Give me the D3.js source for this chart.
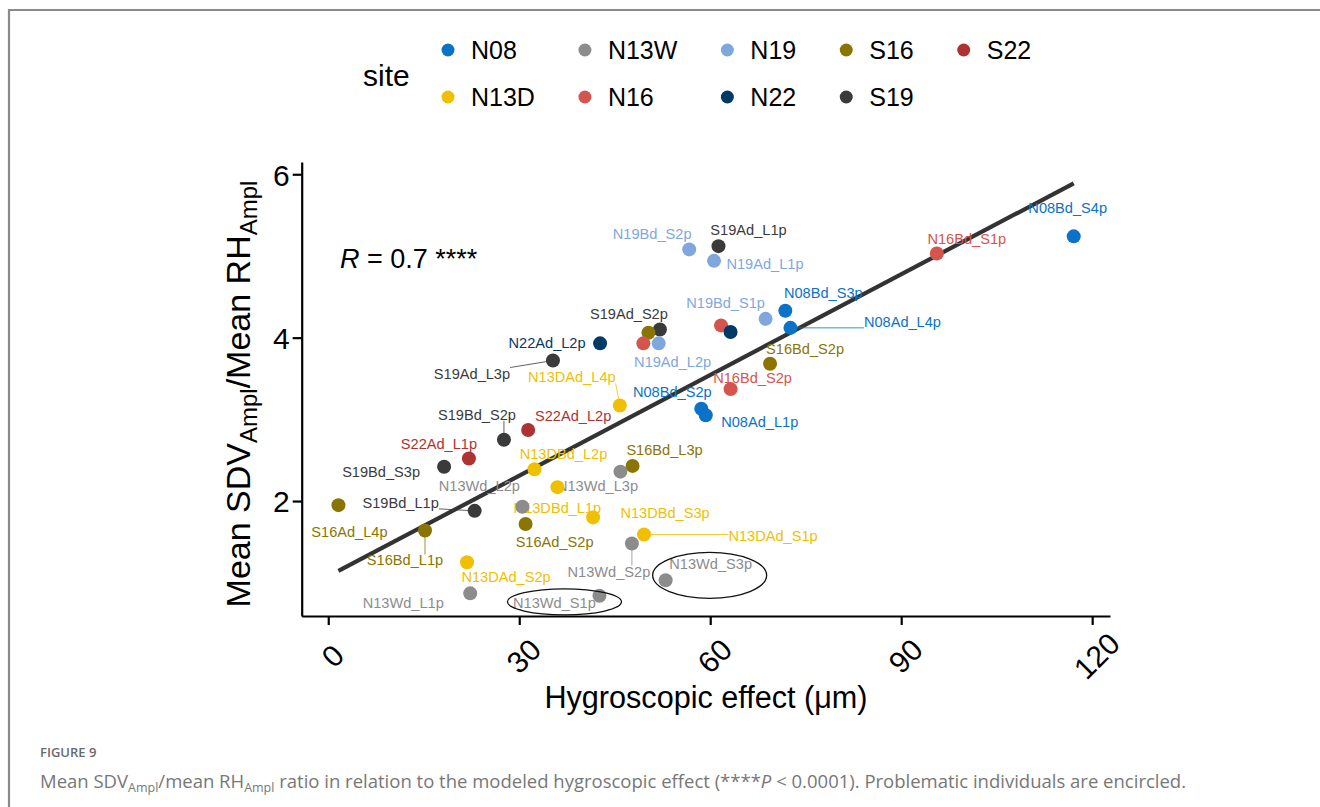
<!DOCTYPE html>
<html>
<head>
<meta charset="utf-8">
<script src="https://cdn.jsdelivr.net/npm/d3@7"></script>
<style>
  html, body { margin: 0; padding: 0; background: #ffffff; }
  svg { display: block; }
</style>
</head>
<body>
<svg id="fig" width="1320" height="807"></svg>
<script>
// ---- data: one entry per tree (sample id, site, hygroscopic effect in µm, SDV/RH amplitude ratio)
const sampleIds = [
  "N08Bd_S4p", "N16Bd_S1p", "S19Ad_L1p", "N19Bd_S2p", "N19Ad_L1p",
  "N08Bd_S3p", "N19Bd_S1p", "N08Ad_L4p", "", "",
  "S19Ad_S2p", "", "", "N22Ad_L2p", "N19Ad_L2p",
  "S19Ad_L3p", "S16Bd_S2p", "N16Bd_S2p", "N13DAd_L4p", "N08Bd_S2p",
  "N08Ad_L1p", "S22Ad_L2p", "S19Bd_S2p", "S22Ad_L1p", "S19Bd_S3p",
  "N13DBd_L2p", "S16Bd_L3p", "N13Wd_L3p", "N13DBd_L1p", "N13Wd_L2p",
  "S16Ad_L4p", "S19Bd_L1p", "N13DBd_S3p", "S16Ad_S2p", "S16Bd_L1p",
  "N13DAd_S1p", "N13Wd_S2p", "N13DAd_S2p", "N13Wd_S3p", "N13Wd_L1p",
  "N13Wd_S1p"
];
const sites = [
  "N08", "N16", "S19", "N19", "N19",
  "N08", "N19", "N08", "N16", "N22",
  "S19", "S16", "N16", "N22", "N19",
  "S19", "S16", "N16", "N13D", "N08",
  "N08", "S22", "S19", "S22", "S19",
  "N13D", "S16", "N13W", "N13D", "N13W",
  "S16", "S19", "N13D", "S16", "S16",
  "N13D", "N13W", "N13D", "N13W", "N13W",
  "N13W"
];
const hygroEffect = [
  117.1, 95.6, 61.3, 56.7, 60.6,
  71.8, 68.7, 72.6, 61.7, 63.2,
  52.1, 50.3, 49.5, 42.7, 51.9,
  35.3, 69.4, 63.2, 45.8, 58.6,
  59.3, 31.4, 27.6, 22.1, 18.2,
  32.4, 47.8, 45.9, 36.0, 30.5,
  1.6, 23.0, 41.6, 31.0, 15.2,
  49.6, 47.7, 21.8, 53.0, 22.3,
  42.6
];
const ampRatio = [
  5.24, 5.03, 5.12, 5.08, 4.94,
  4.33, 4.23, 4.12, 4.15, 4.07,
  4.10, 4.06, 3.93, 3.93, 3.93,
  3.72, 3.68, 3.37, 3.17, 3.13,
  3.05, 2.87, 2.75, 2.52, 2.42,
  2.39, 2.43, 2.36, 2.17, 1.93,
  1.95, 1.88, 1.80, 1.72, 1.64,
  1.59, 1.48, 1.25, 1.03, 0.87,
  0.84
];

// legend order (two rows, filled column by column)
const siteLevels = ["N08", "N13D", "N13W", "N16", "N19", "N22", "S16", "S19", "S22"];
const siteColors = ["#0b72c7", "#f0c000", "#8c8c8c", "#d5554e", "#7fa7dd", "#023a66", "#8b7502", "#3a3a3a", "#ae3232"];

// axis ticks
const xTicks = [0, 30, 60, 90, 120];
const yTicks = [2, 4, 6];
const corrLabel = { r: "0.7", stars: "****" };
// trees flagged as problematic
const encircled = ["N13Wd_S1p", "N13Wd_S3p"];

// ---- label placement (pixel offsets of label centres from their point; leader = draw segment)
const labelLayout = {
  "N08Bd_S4p": [-6, -28], "N16Bd_S1p": [30, -15], "S19Ad_L1p": [30, -16],
  "N19Bd_S2p": [-37, -15], "N19Ad_L1p": [51, 3], "N08Bd_S3p": [38, -18],
  "N19Bd_S1p": [-40, -16], "N08Ad_L4p": [112, -6, true], "S19Ad_S2p": [-31, -15],
  "N22Ad_L2p": [-53, 0], "N19Ad_L2p": [14, 19], "S19Ad_L3p": [-81, 13, true],
  "S16Bd_S2p": [35, -15], "N16Bd_S2p": [22, -11], "N13DAd_L4p": [-48, -28, true],
  "N08Bd_S2p": [-29, -17], "N08Ad_L1p": [54, 7], "S22Ad_L2p": [45, -14],
  "S19Bd_S2p": [-27, -25, true], "S22Ad_L1p": [-30, -15], "S19Bd_S3p": [-63, 5],
  "N13DBd_L2p": [29, -15], "S16Bd_L3p": [32, -16], "N13Wd_L3p": [-23, 14],
  "N13DBd_L1p": [0, 21], "N13Wd_L2p": [-43, -21], "S16Ad_L4p": [11, 27],
  "S19Bd_L1p": [-74, -8, true], "S16Ad_S2p": [29, 18], "S16Bd_L1p": [-20, 30, true],
  "N13DBd_S3p": [72, -4], "N13DAd_S1p": [129, 1, true], "N13Wd_S2p": [-23, 28, true],
  "N13DAd_S2p": [39, 15], "N13Wd_S3p": [45, -16], "N13Wd_L1p": [-67, 10],
  "N13Wd_S1p": [-45, 7]
};
// ellipse around a flagged tree: centre offset from point, radii (px)
const ringLayout = {
  "N13Wd_S1p": [-35, 6, 57, 13],
  "N13Wd_S3p": [44, -5, 57, 23]
};

const svg = d3.select("#fig");
const FONT = "'Liberation Sans', Arial, sans-serif";

// page frame
svg.append("path")
  .attr("d", "M9,807 V10 H1320")
  .attr("fill", "none").attr("stroke", "#8a8a8a").attr("stroke-width", 2.2);

const color = d3.scaleOrdinal().domain(siteLevels).range(siteColors);

const plot = { left: 301.7, right: 1110, top: 162, bottom: 616 };
const x = d3.scaleLinear().domain([-4.17, 122.8]).range([plot.left, plot.right]);
const y = d3.scaleLinear().domain([0.593, 6.15]).range([plot.bottom, plot.top]);

const points = sampleIds.map((id, i) => ({
  id, site: sites[i], hx: hygroEffect[i], ratio: ampRatio[i]
}));

// ---- axes
const xAxis = svg.append("g")
  .attr("transform", `translate(0,${plot.bottom})`)
  .call(d3.axisBottom(x).tickValues(xTicks).tickSize(9).tickSizeOuter(0).tickFormat(d3.format("d")));
const yAxis = svg.append("g")
  .attr("transform", `translate(${plot.left},0)`)
  .call(d3.axisLeft(y).tickValues(yTicks).tickSize(9).tickSizeOuter(0).tickFormat(d3.format("d")));

[xAxis, yAxis].forEach(g => {
  g.select(".domain").attr("stroke", "#000").attr("stroke-width", 2.2);
  g.selectAll(".tick line").attr("stroke", "#000").attr("stroke-width", 2.2);
  g.selectAll(".tick text").attr("fill", "#000").attr("font-family", FONT).attr("font-size", 30);
});
yAxis.selectAll(".tick text").attr("x", -12).attr("dy", "0.36em");
xAxis.selectAll(".tick text")
  .attr("text-anchor", "middle")
  .attr("dy", null).attr("y", null)
  .attr("dominant-baseline", "central")
  .attr("transform", "translate(4,40) rotate(-45)");

// ---- axis titles
svg.append("text")
  .attr("x", 706).attr("y", 708)
  .attr("text-anchor", "middle")
  .attr("font-family", FONT).attr("font-size", 30.6).attr("fill", "#000")
  .text("Hygroscopic effect (\u03bcm)");

const yTitle = svg.append("text")
  .attr("transform", "translate(250,394) rotate(-90)")
  .attr("text-anchor", "middle")
  .attr("font-family", FONT).attr("font-size", 34).attr("fill", "#000");
yTitle.append("tspan").text("Mean SDV");
yTitle.append("tspan").attr("font-size", 24).attr("dy", 7).text("Ampl");
yTitle.append("tspan").attr("dy", -7).text("/Mean RH");
yTitle.append("tspan").attr("font-size", 24).attr("dy", 7).text("Ampl");

// ---- regression line (ordinary least squares on all trees)
const mx = d3.mean(points, d => d.hx), my = d3.mean(points, d => d.ratio);
const sxy = d3.sum(points, d => (d.hx - mx) * (d.ratio - my));
const sxx = d3.sum(points, d => (d.hx - mx) ** 2);
const slope = sxy / sxx, intercept = my - slope * mx;
const [xmin, xmax] = d3.extent(points, d => d.hx);
svg.append("line")
  .attr("x1", x(xmin)).attr("y1", y(intercept + slope * xmin))
  .attr("x2", x(xmax)).attr("y2", y(intercept + slope * xmax))
  .attr("stroke", "#333333").attr("stroke-width", 4.2).attr("stroke-linecap", "butt");

// ---- correlation annotation
const rText = svg.append("text")
  .attr("x", 340).attr("y", 268)
  .attr("font-family", FONT).attr("font-size", 27).attr("fill", "#000");
rText.append("tspan").attr("font-style", "italic").text("R");
rText.append("tspan").text(` = ${corrLabel.r} ${corrLabel.stars}`);

// ---- labels, leader segments, points
const labelled = points.filter(d => d.id && labelLayout[d.id]);
const lblG = svg.append("g");
const segG = lblG.append("g");
const txtG = lblG.append("g");

labelled.forEach(d => {
  const [ox, oy, leader] = labelLayout[d.id];
  const px = x(d.hx), py = y(d.ratio);
  const t = txtG.append("text")
    .attr("x", px + ox).attr("y", py + oy)
    .attr("text-anchor", "middle").attr("dominant-baseline", "central")
    .attr("font-family", FONT).attr("font-size", 14.6)
    .attr("fill", color(d.site))
    .text(d.id);
  if (leader) {
    const bb = t.node().getBBox();
    const ex = Math.max(bb.x, Math.min(px, bb.x + bb.width));
    const ey = Math.max(bb.y + 2, Math.min(py, bb.y + bb.height - 2));
    segG.append("line")
      .attr("x1", px).attr("y1", py).attr("x2", ex).attr("y2", ey)
      .attr("stroke", color(d.site)).attr("stroke-width", 0.8);
  }
});

svg.append("g").selectAll("circle")
  .data(points)
  .join("circle")
  .attr("cx", d => x(d.hx)).attr("cy", d => y(d.ratio))
  .attr("r", 7)
  .attr("fill", d => color(d.site));

// ---- rings round problematic trees
points.filter(d => encircled.includes(d.id)).forEach(d => {
  const [ox, oy, rx, ry] = ringLayout[d.id];
  svg.append("ellipse")
    .attr("cx", x(d.hx) + ox).attr("cy", y(d.ratio) + oy)
    .attr("rx", rx).attr("ry", ry)
    .attr("fill", "none").attr("stroke", "#111").attr("stroke-width", 1.3);
});

// ---- legend
const legend = svg.append("g").attr("font-family", FONT);
legend.append("text")
  .attr("x", 363).attr("y", 75).attr("dominant-baseline", "central")
  .attr("font-size", 30).attr("fill", "#000").text("site");
const rowY = [50, 97];
const ctx = document.createElement("canvas").getContext("2d");
ctx.font = `25px ${FONT}`;
let colX = 448;
for (let c = 0; c < Math.ceil(siteLevels.length / 2); c++) {
  const col = siteLevels.slice(c * 2, c * 2 + 2);
  col.forEach((s, r) => {
    legend.append("circle").attr("cx", colX).attr("cy", rowY[r]).attr("r", 6.5).attr("fill", color(s));
    legend.append("text").attr("x", colX + 23).attr("y", rowY[r])
      .attr("dominant-baseline", "central").attr("font-size", 25).attr("fill", "#000").text(s);
  });
  const w = d3.max(col, s => ctx.measureText(s).width);
  colX += 23 + w + 50;
}

// ---- caption
const CAP = "'Open Sans', 'Noto Sans', sans-serif";
svg.append("text")
  .attr("x", 40).attr("y", 757)
  .attr("font-family", CAP).attr("font-size", 13).attr("font-weight", 600)
  .attr("fill", "#6a6a6a").text("FIGURE 9");
const cap = svg.append("text")
  .attr("x", 40).attr("y", 788)
  .attr("font-family", CAP).attr("font-size", 18.5).attr("fill", "#777777");
cap.append("tspan").text("Mean SDV");
cap.append("tspan").attr("font-size", 12.5).attr("dy", 4).text("Ampl");
cap.append("tspan").attr("dy", -4).text("/mean RH");
cap.append("tspan").attr("font-size", 12.5).attr("dy", 4).text("Ampl");
cap.append("tspan").attr("dy", -4).text(" ratio in relation to the modeled hygroscopic effect (****");
cap.append("tspan").attr("font-style", "italic").text("P");
cap.append("tspan").text(" < 0.0001). Problematic individuals are encircled.");
</script>
</body>
</html>
